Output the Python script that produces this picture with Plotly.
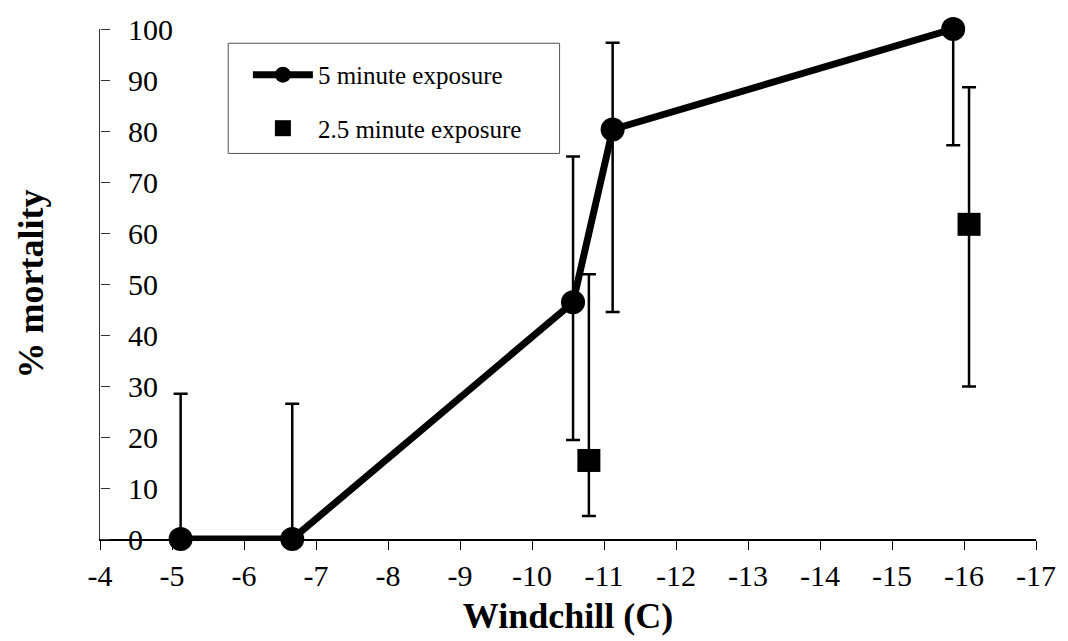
import plotly.graph_objects as go

# ---- data ----
windchill_5 = [-5.12, -6.67, -10.57, -11.12, -15.85]
mortality_5 = [0, 0, 46.4, 80.3, 100]
err_up_5 = [28.5, 26.5, 28.6, 17.0, 0]
err_down_5 = [0, 0, 27.0, 35.8, 22.8]

windchill_25 = [-10.79, -16.07]
mortality_25 = [15.4, 61.7]
err_up_25 = [36.5, 26.9]
err_down_25 = [10.9, 31.8]

x_ticks = [-4, -5, -6, -7, -8, -9, -10, -11, -12, -13, -14, -15, -16, -17]
x_tick_text = ["-4", "-5", "-6", "-7", "-8", "-9", "-10", "-11", "-12", "-13", "-14", "-15", "-16", "-17"]
y_ticks = [0, 10, 20, 30, 40, 50, 60, 70, 80, 90, 100]

FONT = "Liberation Serif, Times New Roman, serif"

fig = go.Figure()
fig.add_trace(go.Scatter(
    x=windchill_5, y=mortality_5, mode="lines+markers", cliponaxis=False,
    name="5 minute exposure", legendgroup="a",
    line=dict(color="black", width=7),
    marker=dict(symbol="circle", size=24, color="black"),
    error_y=dict(type="data", symmetric=False, array=err_up_5, arrayminus=err_down_5,
                 color="black", thickness=2.5, width=7),
))
fig.add_trace(go.Scatter(
    x=windchill_25, y=mortality_25, mode="markers", yaxis="y2", cliponaxis=False,
    name="2.5 minute exposure", legendgroup="b",
    marker=dict(symbol="square", size=23, color="black"),
    error_y=dict(type="data", symmetric=False, array=err_up_25, arrayminus=err_down_25,
                 color="black", thickness=2.5, width=7),
))

fig.update_layout(
    width=1068, height=641,
    margin=dict(l=100, r=27, t=28, b=100),
    paper_bgcolor="white", plot_bgcolor="white",
    font=dict(family=FONT, color="black", size=30),
    showlegend=True,
    legend=dict(
        x=0.158, y=0.955, xanchor="left", yanchor="top",
        bgcolor="rgba(0,0,0,0)", borderwidth=0,
        font=dict(family=FONT, size=25, color="black"),
        tracegroupgap=18, itemwidth=60,
    ),
    shapes=[dict(type="rect", xref="paper", yref="paper",
                 x0=0.137, x1=0.491, y0=0.756, y1=0.972,
                 line=dict(color="#555555", width=1), fillcolor="rgba(0,0,0,0)")],
    xaxis=dict(
        range=[-4, -17], tickvals=x_ticks, ticktext=x_tick_text,
        showgrid=False, zeroline=False,
        showline=True, linecolor="black", linewidth=1.5,
        ticks="outside", ticklen=9, tickwidth=1, tickcolor="black",
        tickfont=dict(family=FONT, size=30, color="black"),
        title=dict(text="<b>Windchill (C)</b>", font=dict(family=FONT, size=36, color="black"), standoff=12),
    ),
    yaxis=dict(
        range=[0, 100], autorange=False,
        showgrid=False, zeroline=False,
        showline=True, linecolor="#333333", linewidth=1,
        ticks="", showticklabels=False,
        title=dict(text="<b>% mortality</b>", font=dict(family=FONT, size=36, color="black"), standoff=44),
    ),
    yaxis2=dict(
        overlaying="y", side="right", anchor="free", position=0,
        range=[0, 100], autorange=False, matches="y", tickvals=y_ticks,
        showgrid=False, zeroline=False, showline=False,
        ticks="outside", ticklen=9, tickwidth=1, tickcolor="#333333",
        ticklabelstandoff=12,
        tickfont=dict(family=FONT, size=30, color="black"),
    ),
)

fig.write_html("out.html")
